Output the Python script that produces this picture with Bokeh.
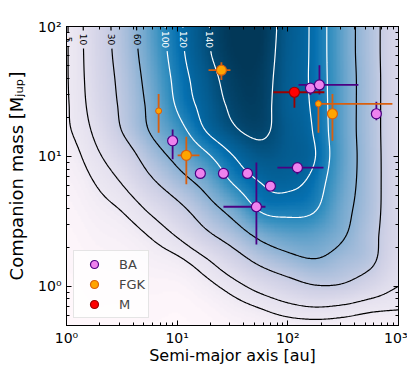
import numpy as np
import contourpy
from bokeh.plotting import figure
from bokeh.models import (Range1d, LogAxis, LogTicker, CustomJSTickFormatter,
                          LinearColorMapper, Legend, LegendItem, ColumnDataSource)
from bokeh.embed import file_html
from bokeh.resources import INLINE
from bokeh.core.properties import value

# ---------------- companions ----------------
ba_a    = [9.1, 16.2, 26.2, 43.2, 69.6, 122.0, 52.0, 160.0, 193.0, 631.0]
ba_m    = [13.2, 7.4, 7.4, 7.4, 5.9, 8.2, 4.1, 33.6, 35.5, 21.3]
ba_a_lo = [9.1, 16.2, 26.2, 43.2, 69.6, 80.5, 26.2, 160.0, 125.0, 631.0]
ba_a_hi = [9.1, 16.2, 26.2, 43.2, 69.6, 210.0, 62.8, 160.0, 434.0, 631.0]
ba_m_lo = [9.5, 7.4, 7.4, 7.4, 5.9, 7.3, 2.1, 29.7, 30.0, 19.0]
ba_m_hi = [16.1, 7.4, 7.4, 7.4, 5.9, 9.0, 9.0, 36.7, 50.4, 26.3]

fgk_a    = [25.1, 12.1, 253.0]
fgk_m    = [46.1, 10.2, 21.3]
fgk_a_lo = [19.2, 10.1, 253.0]
fgk_a_hi = [30.3, 15.9, 253.0]
fgk_m_lo = [38.7, 6.1, 13.2]
fgk_m_hi = [53.0, 14.2, 30.3]

fgk2_a    = [6.8, 189.0]
fgk2_m    = [22.4, 25.4]
fgk2_a_lo = [6.8, 178.0]
fgk2_a_hi = [6.8, 881.0]
fgk2_m_lo = [15.2, 15.2]
fgk2_m_hi = [30.3, 27.2]

m_a    = [114.7]
m_m    = [31.2]
m_a_lo = [74.0]
m_a_hi = [214.0]
m_m_lo = [23.7]
m_m_hi = [33.5]

# ---------------- sensitivity map (number of stars) ----------------
grid_log_a = [0.0, 0.25, 0.5, 0.75, 1.0, 1.25, 1.5, 1.75, 2.0, 2.25, 2.5, 2.75, 3.0]
grid_log_m = [2.0, 1.8, 1.6, 1.4, 1.2, 1.0, 0.8, 0.6, 0.4, 0.2, 0.0, -0.2, -0.4]
grid_counts = [
    [4.8, 17.0, 41.0, 79.0, 114.0, 137.0, 150.0, 150.0, 132.0, 114.0, 77.0, 41.0, 17.0],
    [4.8, 16.5, 39.5, 76.0, 112.0, 136.0, 149.0, 149.0, 131.0, 114.0, 77.0, 41.0, 17.0],
    [4.8, 15.5, 36.5, 71.0, 107.7, 131.0, 146.0, 147.0, 130.0, 114.0, 78.0, 42.0, 17.0],
    [4.7, 14.0, 34.0, 66.0, 103.0, 127.0, 143.0, 146.0, 129.0, 115.0, 78.0, 42.0, 17.0],
    [4.5, 11.2, 30.3, 61.0, 89.0, 119.5, 137.0, 143.0, 131.0, 117.0, 78.0, 42.0, 17.0],
    [3.2, 7.9, 18.1, 42.0, 69.0, 94.0, 119.0, 133.0, 130.0, 120.0, 79.0, 43.0, 17.0],
    [2.2, 5.0, 10.4, 24.9, 46.0, 69.5, 101.0, 120.0, 124.0, 112.0, 76.0, 43.0, 17.0],
    [1.5, 3.2, 5.4, 11.7, 24.0, 46.0, 72.0, 104.0, 109.0, 102.0, 70.0, 42.0, 17.0],
    [1.0, 2.0, 2.9, 5.4, 11.1, 25.0, 43.5, 68.0, 80.0, 79.0, 63.0, 38.0, 17.0],
    [0.7, 1.3, 1.6, 2.7, 4.1, 8.8, 19.5, 36.0, 50.0, 58.0, 47.0, 35.0, 14.0],
    [0.45, 0.8, 0.9, 1.4, 1.5, 3.4, 7.2, 13.5, 21.0, 28.5, 27.0, 17.5, 10.0],
    [0.3, 0.5, 0.5, 0.8, 0.6, 1.2, 2.6, 4.2, 6.3, 7.5, 6.5, 5.0, 4.6],
    [0.2, 0.25, 0.3, 0.35, 0.4, 0.6, 1.0, 1.5, 1.8, 1.9, 1.9, 1.7, 1.8],
]
dark_levels = [5, 10, 30, 60]
light_levels = [100, 120, 140]
label_log_m = 1.9

# colour scale (PuBu) and value->position anchors
pubu = ['#fff7fb', '#ece7f2', '#d0d1e6', '#a6bddb', '#74a9cf',
        '#3690c0', '#0570b0', '#045a8d', '#023858']
cmap_values = [0, 5, 17, 45, 80, 110, 150]
cmap_pos = [0.0, 0.125, 0.22, 0.37, 0.55, 0.72, 1.0]


def hex_rgb(h):
    return np.array([int(h[i:i + 2], 16) for i in (1, 3, 5)], float)


def build_palette(n=256):
    anchors = np.array([hex_rgb(c) for c in pubu])
    pos = np.linspace(0, 1, len(pubu))
    out = []
    for v in np.linspace(cmap_values[0], cmap_values[-1], n):
        t = np.interp(v, cmap_values, cmap_pos)
        rgb = [np.interp(t, pos, anchors[:, k]) for k in range(3)]
        out.append('#%02x%02x%02x' % tuple(int(round(c)) for c in rgb))
    return out


def catmull_rom(arr, n_out, axis):
    c = np.moveaxis(np.asarray(arr, float), axis, 0)
    n = c.shape[0]
    t = np.linspace(0, n - 1, n_out)
    i = np.clip(np.floor(t).astype(int), 0, n - 2)
    u = (t - i).reshape((-1,) + (1,) * (c.ndim - 1))
    p0 = c[np.clip(i - 1, 0, n - 1)]
    p1 = c[i]
    p2 = c[i + 1]
    p3 = c[np.clip(i + 2, 0, n - 1)]
    out = 0.5 * (2 * p1 + (p2 - p0) * u + (2 * p0 - 5 * p1 + 4 * p2 - p3) * u ** 2
                 + (3 * p1 - p0 - 3 * p2 + p3) * u ** 3)
    return np.moveaxis(out, 0, axis)


Z = np.array(grid_counts)[::-1]
lm_c = np.array(grid_log_m)[::-1]
la_c = np.array(grid_log_a)
NF = 241
la_f = np.linspace(la_c[0], la_c[-1], NF)
lm_f = np.linspace(lm_c[0], lm_c[-1], NF)
Zf = np.exp(catmull_rom(catmull_rom(np.log(Z), NF, 0), NF, 1))

# ---------------- figure ----------------
p = figure(x_axis_type="log", y_axis_type="log",
           x_range=Range1d(1, 1000), y_range=Range1d(0.5, 100),
           frame_width=332, frame_height=299,
           min_border_left=66, min_border_right=9, min_border_top=26, min_border_bottom=40,
           toolbar_location=None, output_backend="svg")
p.xgrid.visible = False
p.ygrid.visible = False
p.outline_line_color = "black"
p.outline_line_width = 1

mapper = LinearColorMapper(palette=build_palette(), low=cmap_values[0], high=cmap_values[-1])
y0 = 10 ** lm_f[0]
p.image(image=[Zf], x=10 ** la_f[0], y=y0, dw=10 ** la_f[-1] - 10 ** la_f[0],
        dh=10 ** lm_f[-1] - y0, color_mapper=mapper)

gen = contourpy.contour_generator(la_f, lm_f, Zf)
jrow = int(np.argmin(np.abs(lm_f - label_log_m)))
row = Zf[jrow]
lab_x, lab_y, lab_t, lab_c = [], [], [], []
LAB_PX = 9


def split_runs(pts, la0, lm0, hw, hh):
    keep = ~((np.abs(pts[:, 0] - la0) < hw) & (np.abs(pts[:, 1] - lm0) < hh))
    segs, cur = [], []
    for ok, pt in zip(keep, pts):
        if ok:
            cur.append(pt)
        else:
            if len(cur) > 1:
                segs.append(np.array(cur))
            cur = []
    if len(cur) > 1:
        segs.append(np.array(cur))
    return segs


for levels, colr in ((dark_levels, "black"), (light_levels, "white")):
    xs, ys = [], []
    for lev in levels:
        k = int(np.argmax(row >= lev))
        la0 = la_f[k - 1] + (lev - row[k - 1]) / (row[k] - row[k - 1]) * (la_f[k] - la_f[k - 1])
        txt = str(lev)
        hh = (len(txt) * 0.64 * LAB_PX / 2 + 2.5) / 130.0
        hw = 6.0 / 110.7
        lab_x.append(float(10 ** la0))
        lab_y.append(float(10 ** label_log_m))
        lab_t.append(txt)
        lab_c.append(colr)
        for ln in gen.lines(lev):
            for seg in split_runs(np.asarray(ln), la0, label_log_m, hw, hh):
                xs.append((10 ** seg[:, 0]).tolist())
                ys.append((10 ** seg[:, 1]).tolist())
    p.multi_line(xs, ys, line_color=colr, line_width=1.2)

p.text(x="x", y="y", text="t", text_color="c",
       source=ColumnDataSource(dict(x=lab_x, y=lab_y, t=lab_t, c=lab_c)),
       angle=-np.pi / 2, text_align="center", text_baseline="middle",
       text_font=value("DejaVu Sans"), text_font_size="%dpx" % LAB_PX)


def errbars(a, m, a_lo, a_hi, m_lo, m_hi, col):
    p.segment(x0=a_lo, y0=m, x1=a_hi, y1=m, line_color=col, line_width=1.8)
    p.segment(x0=a, y0=m_lo, x1=a, y1=m_hi, line_color=col, line_width=1.8)


BA_FILL, BA_EDGE = "#ee82ee", "#4b0082"
FGK_FILL, FGK_EDGE = "#ffa500", "#d95f0e"
M_FILL, M_EDGE = "#ff0000", "#9b0000"

errbars(ba_a, ba_m, ba_a_lo, ba_a_hi, ba_m_lo, ba_m_hi, BA_EDGE)
errbars(fgk_a, fgk_m, fgk_a_lo, fgk_a_hi, fgk_m_lo, fgk_m_hi, FGK_EDGE)
errbars(fgk2_a, fgk2_m, fgk2_a_lo, fgk2_a_hi, fgk2_m_lo, fgk2_m_hi, FGK_EDGE)
errbars(m_a, m_m, m_a_lo, m_a_hi, m_m_lo, m_m_hi, M_EDGE)

r_ba = p.scatter(ba_a, ba_m, size=10, fill_color=BA_FILL, line_color=BA_EDGE, line_width=1.2)
r_fgk = p.scatter(fgk_a, fgk_m, size=10, fill_color=FGK_FILL, line_color=FGK_EDGE, line_width=1.2)
p.scatter(fgk2_a, fgk2_m, size=6, fill_color=FGK_FILL, line_color=FGK_EDGE, line_width=1.0)
r_m = p.scatter(m_a, m_m, size=10, fill_color=M_FILL, line_color=M_EDGE, line_width=1.2)

legend = Legend(items=[LegendItem(label="BA", renderers=[r_ba]),
                       LegendItem(label="FGK", renderers=[r_fgk]),
                       LegendItem(label="M", renderers=[r_m])],
                location="bottom_left", margin=7, padding=3, spacing=0,
                glyph_height=20, glyph_width=34, label_height=20, label_standoff=8,
                label_text_font="DejaVu Sans", label_text_font_size="13px",
                border_line_color="#cccccc", background_fill_alpha=0.8)
p.add_layout(legend)

sup_fmt = CustomJSTickFormatter(code="""
const s = {'-':'\u207b','0':'\u2070','1':'\u00b9','2':'\u00b2','3':'\u00b3','4':'\u2074','5':'\u2075','6':'\u2076','7':'\u2077','8':'\u2078','9':'\u2079'};
const e = Math.round(Math.log10(tick));
return '10' + String(e).split('').map(c => s[c]).join('');
""")
blank_fmt = CustomJSTickFormatter(code="return '';")


def style_axis(ax, labels=True):
    ax.ticker = LogTicker(mantissas=[1], num_minor_ticks=10)
    ax.major_tick_in = 5
    ax.major_tick_out = 0
    ax.minor_tick_in = 3
    ax.minor_tick_out = 0
    ax.major_tick_line_color = "black"
    ax.minor_tick_line_color = "black"
    ax.axis_line_color = "black"
    if labels:
        ax.formatter = sup_fmt
        ax.major_label_text_font = "DejaVu Sans"
        ax.major_label_text_font_size = "14px"
        ax.major_label_text_color = "black"
        ax.axis_label_text_font = "DejaVu Sans"
        ax.axis_label_text_font_size = "16px"
        ax.axis_label_text_font_style = "normal"
        ax.axis_label_text_color = "black"
    else:
        ax.formatter = blank_fmt
        ax.major_label_text_font_size = "2px"
        ax.major_label_standoff = 0


style_axis(p.xaxis[0])
style_axis(p.yaxis[0])
p.xaxis[0].axis_label = "Semi-major axis [au]"
p.xaxis[0].major_label_standoff = 4
p.xaxis[0].axis_label_standoff = -3
p.yaxis[0].axis_label = "Companion mass [M\u2c7c\u1d64\u209a]"
p.yaxis[0].axis_label_text_font_size = "18px"
p.yaxis[0].major_label_standoff = 5
p.yaxis[0].axis_label_standoff = 8

top_ax = LogAxis()
right_ax = LogAxis()
style_axis(top_ax, labels=False)
style_axis(right_ax, labels=False)
p.add_layout(top_ax, "above")
p.add_layout(right_ax, "right")

open("out.html", "w").write(file_html(p, INLINE))
